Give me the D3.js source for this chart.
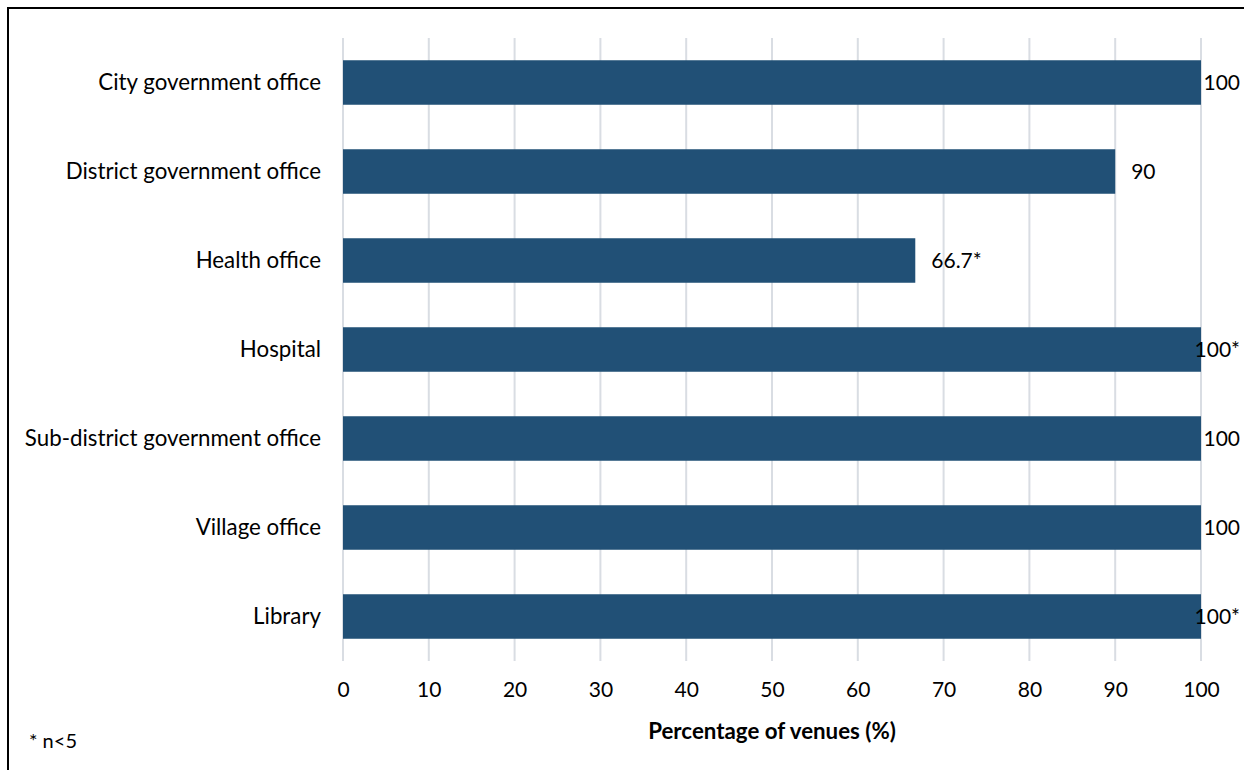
<!DOCTYPE html>
<html>
<head>
<meta charset="utf-8">
<script src="https://cdn.jsdelivr.net/npm/d3@7"></script>
<style>
  html, body { margin: 0; padding: 0; background: #fff; }
  svg { display: block; font-family: Lato, "Open Sans", sans-serif; }
</style>
</head>
<body>
<svg id="chart" width="1244" height="770"></svg>
<script>
// Venue categories, top to bottom
const categories = [
  "City government office",
  "District government office",
  "Health office",
  "Hospital",
  "Sub-district government office",
  "Village office",
  "Library"
];
// Percentage of venues per category
const values = [100, 90, 66.7, 100, 100, 100, 100];
// Value labels (asterisk marks n<5)
const valueLabels = ["100", "90", "66.7*", "100*", "100", "100", "100*"];
const xTicks = [0, 10, 20, 30, 40, 50, 60, 70, 80, 90, 100];

const svg = d3.select("#chart");
const W = 1244, H = 770;
const plot = { left: 343, right: 1201, top: 38, bottom: 661 };
const labelSize = 22.3, numSize = 21;

// outer frame (top and left edges)
svg.append("path")
  .attr("d", `M8,${H} L8,8 L${W},8`)
  .attr("fill", "none").attr("stroke", "#000").attr("stroke-width", 2);

const x = d3.scaleLinear().domain([0, 100]).range([plot.left, plot.right]);
const y = d3.scaleBand().domain(categories).range([plot.top, plot.bottom]).paddingInner(0.5).paddingOuter(0.25);

// vertical gridlines
svg.append("g").selectAll("line").data(xTicks).join("line")
  .attr("x1", d => x(d)).attr("x2", d => x(d))
  .attr("y1", plot.top).attr("y2", plot.bottom)
  .attr("stroke", "#d9dde3").attr("stroke-width", 2);

// bars
svg.append("g").selectAll("rect").data(values).join("rect")
  .attr("x", x(0))
  .attr("y", (d, i) => y(categories[i]))
  .attr("width", d => x(d) - x(0))
  .attr("height", y.bandwidth())
  .attr("fill", "#215076");

// x axis tick labels
const xAxis = d3.axisBottom(x).tickValues(xTicks).tickSize(0).tickPadding(0).tickFormat(d3.format("d"));
const gx = svg.append("g").attr("transform", `translate(0,${plot.bottom + 21})`).call(xAxis);
gx.select(".domain").remove();
gx.selectAll("text").attr("font-size", numSize).attr("fill", "#000").attr("font-family", "Lato, sans-serif");

// y axis category labels
const yAxis = d3.axisLeft(y).tickSize(0).tickPadding(22);
const gy = svg.append("g").attr("transform", `translate(${plot.left},0)`).call(yAxis);
gy.select(".domain").remove();
gy.selectAll("text").attr("font-size", labelSize).attr("fill", "#000").attr("font-family", "Lato, sans-serif");

// value labels, placed past the bar end but kept inside the chart area
svg.append("g").selectAll("text").data(values).join("text")
  .attr("font-size", numSize).attr("fill", "#000")
  .attr("y", (d, i) => y(categories[i]) + y.bandwidth() / 2)
  .attr("dy", "0.35em")
  .text((d, i) => valueLabels[i])
  .attr("x", function (d) {
    const w = this.getComputedTextLength();
    return Math.min(x(d) + 16, 1240 - w);
  });

// axis title
svg.append("text")
  .attr("x", (plot.left + plot.right) / 2).attr("y", 739)
  .attr("text-anchor", "middle").attr("font-size", labelSize).attr("font-weight", "bold")
  .text("Percentage of venues (%)");

// footnote
svg.append("text")
  .attr("x", 29).attr("y", 748).attr("font-size", 20)
  .text("* n<5");
</script>
</body>
</html>
